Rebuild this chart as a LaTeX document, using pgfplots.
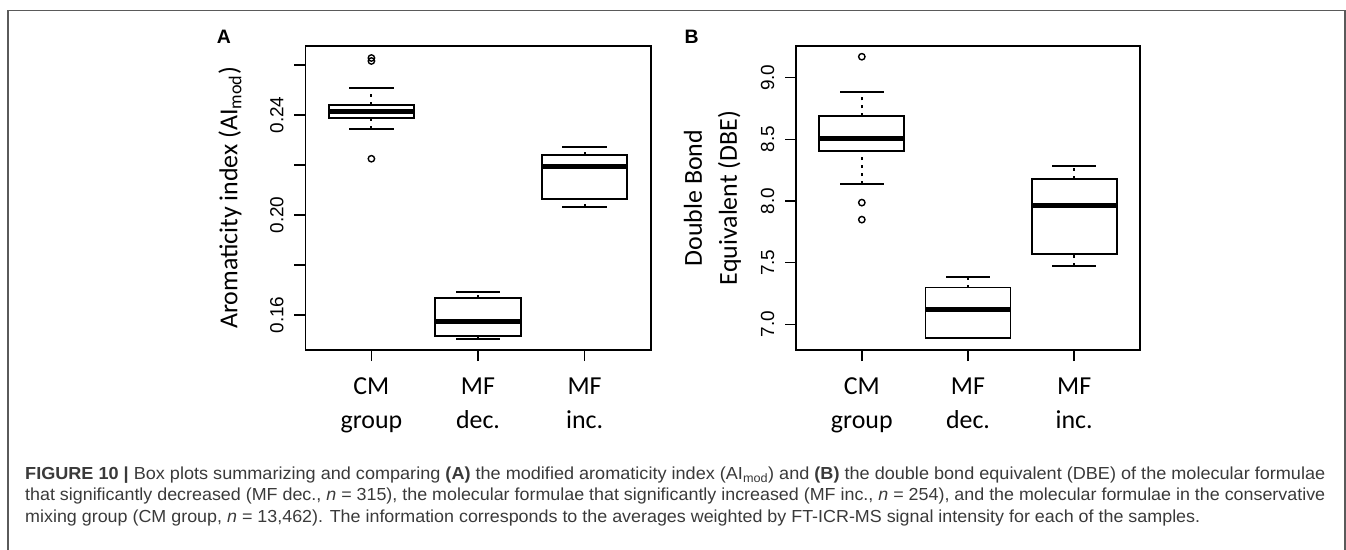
\documentclass[border=0pt]{standalone}
\usepackage{fontspec}
\setmainfont{Carlito}
\newfontfamily\arialfont{Liberation Sans}
\usepackage{graphicx}
\usepackage{pgfplots}
\pgfplotsset{compat=1.18}
\definecolor{capgray}{HTML}{3A3A3A}
\definecolor{framegray}{HTML}{5A5A5A}

\pgfplotsset{
  rbox/.style={
    scale only axis, height=304bp,
    axis line style={line width=1.6bp, black},
    tick style={line width=1.6bp, black},
    major tick length=11bp, tick align=outside,
    xtick pos=left, ytick pos=left,
    xmin=0.38, xmax=3.62,
    xtick={1,2,3},
    xticklabels={CM\\group, MF\\dec., MF\\inc.},
    xticklabel style={align=center, font=\fontsize{26}{34.4}\selectfont, anchor=north, inner sep=0pt, yshift=-16.5bp},
    yticklabel style={xshift=-10.5bp, rotate=90, anchor=south, inner sep=0pt, font=\fontsize{19}{22}\selectfont\arialfont},
  },
  rline/.style={black, line width=1.8bp, line cap=rect, line join=miter, mark=none},
  rwhisker/.style={black, line width=1.8bp, dash pattern=on 3bp off 5bp, mark=none},
  rmedian/.style={black, line width=5bp, mark=none},
  rout/.style={black, only marks, mark=o, mark size=3.2bp, mark options={solid, line width=1.4bp}},
}

% R-style box: #1 position, #2 lower whisker, #3 lower quartile,
% #4 median, #5 upper quartile, #6 upper whisker
\newcommand\rboxplot[6]{%
  \pgfmathsetmacro\rbxl{#1-0.4}\pgfmathsetmacro\rbxr{#1+0.4}%
  \pgfmathsetmacro\rbsl{#1-0.2}\pgfmathsetmacro\rbsr{#1+0.2}%
  \edef\rbtmp{%
    \noexpand\addplot[rwhisker] coordinates {(#1,#2) (#1,#3)};
    \noexpand\addplot[rwhisker] coordinates {(#1,#5) (#1,#6)};
    \noexpand\addplot[rline] coordinates {(\rbsl,#2) (\rbsr,#2)};
    \noexpand\addplot[rline] coordinates {(\rbsl,#6) (\rbsr,#6)};
    \noexpand\addplot[rline] coordinates {(\rbxl,#3) (\rbxr,#3) (\rbxr,#5) (\rbxl,#5) (\rbxl,#3)};
    \noexpand\addplot[rmedian] coordinates {(\rbxl,#4) (\rbxr,#4)};
  }\rbtmp}

\begin{document}
\begin{tikzpicture}
\path[use as bounding box] (0,0) rectangle (1346bp,550bp);
\draw[framegray, line width=1.3bp] (8bp,0) -- (8bp,539.3bp) -- (1345bp,539.3bp) -- (1345bp,0);

% Panel A: modified aromaticity index
\begin{axis}[rbox, at={(305.3bp,200bp)}, anchor=south west, width=345.4bp,
  ymin=0.146, ymax=0.2676,
  ytick={0.16,0.18,0.20,0.22,0.24,0.26},
  yticklabels={0.16,,0.20,,0.24,}]
\rboxplot{1}{0.2345}{0.2387}{0.2413}{0.2440}{0.2507}
\rboxplot{2}{0.1504}{0.1516}{0.1573}{0.1669}{0.1691}
\rboxplot{3}{0.2033}{0.2063}{0.2193}{0.2240}{0.2273}
\addplot[rout] coordinates {(1,0.2628) (1,0.2616) (1,0.2225)};
\end{axis}

% Panel B: double bond equivalent
\begin{axis}[rbox, at={(796bp,200bp)}, anchor=south west, width=344bp,
  ymin=6.792, ymax=9.257,
  ytick={7,7.5,8,8.5,9},
  yticklabels={7.0,7.5,8.0,8.5,9.0}]
\rboxplot{1}{8.136}{8.408}{8.509}{8.687}{8.884}
\rboxplot{2}{6.885}{6.888}{7.123}{7.298}{7.387}
\rboxplot{3}{7.472}{7.569}{7.963}{8.179}{8.284}
\addplot[rout] coordinates {(1,9.170) (1,7.987) (1,7.849)};
\end{axis}

% panel letters and axis titles
\node[font=\fontsize{19.5}{20}\selectfont\arialfont\bfseries] at (224bp,513bp) {A};
\node[font=\fontsize{19.5}{20}\selectfont\arialfont\bfseries] at (691.7bp,513bp) {B};
\node[rotate=90, font=\fontsize{26}{30}\selectfont] at (230bp,352bp) {Aromaticity index (AI\textsubscript{mod})};
\node[rotate=90, align=center, font=\fontsize{26}{35}\selectfont] at (712.5bp,352bp) {Double Bond\\Equivalent (DBE)};

% caption
\begin{scope}[every node/.style={anchor=base west, inner sep=0pt, text=capgray,
    font=\fontsize{17.5}{22}\selectfont\arialfont}]
\node at (25bp,70bp) {\resizebox{1300bp}{\height}{\textbf{FIGURE 10 |} Box plots summarizing and comparing \textbf{(A)} the modified aromaticity index (AI\textsubscript{mod}) and \textbf{(B)} the double bond equivalent (DBE) of the molecular formulae}};
\node at (25bp,49bp) {\resizebox{1300bp}{\height}{that significantly decreased (MF dec., \textit{n} = 315), the molecular formulae that significantly increased (MF inc., \textit{n} = 254), and the molecular formulae in the conservative}};
\node at (25bp,28bp) {\resizebox{1175bp}{\height}{mixing group (CM group, \textit{n} = 13,462). The information corresponds to the averages weighted by FT-ICR-MS signal intensity for each of the samples.}};
\end{scope}
\end{tikzpicture}
\end{document}
